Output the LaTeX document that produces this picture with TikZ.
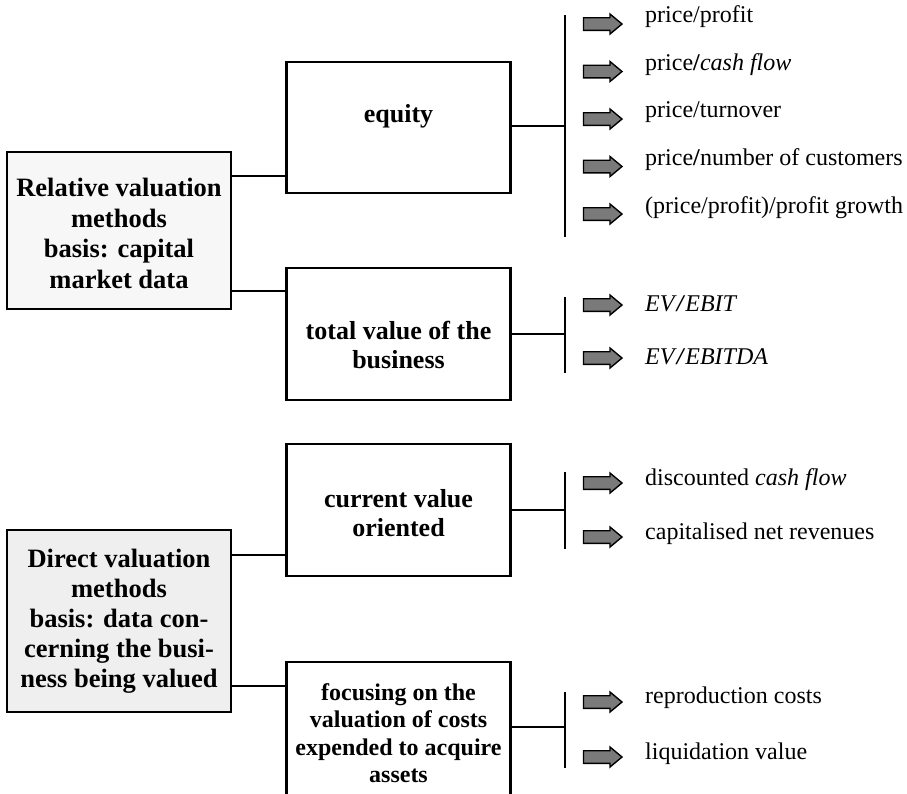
\documentclass[tikz,border=0pt]{standalone}
\usepackage{fontspec}
\setmainfont{Liberation Serif}
\definecolor{relfill}{HTML}{F7F7F7}
\definecolor{dirfill}{HTML}{EFEFEF}
\definecolor{arrowgray}{HTML}{7A7A7A}
\tikzset{
  box/.style={draw=black, line width=2.6pt, rectangle, inner sep=0pt, outer sep=0pt,
    minimum width=224pt, fill=white},
  mainbox/.style={box, font=\bfseries\fontsize{26.5}{30}\selectfont, align=center},
  boxtext/.style={inner sep=0pt, align=center, font=\bfseries\fontsize{26}{28.5}\selectfont},
  conn/.style={line width=2pt},
  bar/.style={line width=2pt},
  item/.style={anchor=base west, inner sep=0pt, font=\fontsize{24}{28}\selectfont},
  pics/blockarr/.style={code={
    \draw[line width=1.4pt, fill=arrowgray, line join=miter]
      (-19,-6.3) -- (7.5,-6.3) -- (7.5,-10) -- (19.5,0) -- (7.5,10) -- (7.5,6.3)
      -- (-19,6.3) -- cycle;}}
}
\begin{document}
\begin{tikzpicture}[x=1pt, y=-1pt]
\useasboundingbox (0,0) rectangle (907,793);
\clip (0,0) rectangle (907,793);

% left-hand categories
\node[mainbox, fill=relfill, minimum height=157pt] (rel) at (119,230.5) {};
\node[boxtext, font=\bfseries\fontsize{26.5}{30.5}\selectfont] (relt) at (119,233.5)
  {Relative valuation\\methods\\basis: capital\\market data};
\node[mainbox, fill=dirfill, minimum height=182pt] (dir) at (119,621)
  {Direct valuation\\methods\\basis: data con-\\cerning the busi-\\ness being valued};

% second-level boxes
\node[box, minimum height=131pt] (eq)  at (398.5,127.5) {};
\node[box, minimum height=132pt] (tot) at (398.5,334) {};
\node[box, minimum height=132pt] (cur) at (398.5,510) {};
\node[box, minimum height=138pt] (foc) at (398.5,731) {};

\node[boxtext] (eqt)  at (398.5,116) {equity};
\node[boxtext] (tott) at (398.5,345) {total value of the\\business};
\node[boxtext] (curt) at (398.5,513) {current value\\oriented};
\node[boxtext, font=\bfseries\fontsize{24}{27.5}\selectfont] (foct) at (398.5,733)
  {focusing on the\\valuation of costs\\expended to acquire\\assets};

% connectors from the categories to the second-level boxes
\draw[conn] (rel.east |- 0,176) -- (eq.west |- 0,176);
\draw[conn] (rel.east |- 0,291) -- (tot.west |- 0,291);
\draw[conn] (dir.east |- 0,555) -- (cur.west |- 0,555);
\draw[conn] (dir.east |- 0,686) -- (foc.west |- 0,686);

% vertical brackets
\coordinate (b1t) at (565,15);  \coordinate (b1b) at (565,237);
\coordinate (b2t) at (565,297); \coordinate (b2b) at (565,373);
\coordinate (b3t) at (565,472); \coordinate (b3b) at (565,549);
\coordinate (b4t) at (565,692); \coordinate (b4b) at (565,768);
\draw[bar] (b1t) -- (b1b);
\draw[bar] (b2t) -- (b2b);
\draw[bar] (b3t) -- (b3b);
\draw[bar] (b4t) -- (b4b);

\draw[conn] ([yshift=1.5pt]eq.east) -- ([yshift=1.5pt]eq.east -| b1t);
\draw[conn] (tot.east) -- (tot.east -| b2t);
\draw[conn] (cur.east) -- (cur.east -| b3t);
\draw[conn] ([yshift=4pt]foc.east) -- ([yshift=4pt]foc.east -| b4t);

% block arrows
\foreach \y in {24,71.5,119,166.5,214,305,358,483,537,702,757}
  \pic at (602.5,\y) {blockarr};

% listed ratios and methods
\node[item] (i1) at (645,22)  {price/profit};
\node[item] (i2) at (645,70)  {price\textbf{/}\textit{cash flow}};
\node[item] (i3) at (645,117) {price/turnover};
\node[item] (i4) at (645,165) {price\textbf{/}number of customers};
\node[item] (i5) at (645,213) {(price/profit)/profit growth};
\node[item] (i6) at (645,311) {\textit{EV}\textbf{\textit{/}}\textit{EBIT}};
\node[item] (i7) at (645,364) {\textit{EV}\textbf{\textit{/}}\textit{EBITDA}};
\node[item] (i8) at (645,485) {discounted \textit{cash flow}};
\node[item] (i9) at (645,539) {capitalised net revenues};
\node[item] (i10) at (645,703) {reproduction costs};
\node[item] (i11) at (645,759) {liquidation value};
\end{tikzpicture}
\end{document}
